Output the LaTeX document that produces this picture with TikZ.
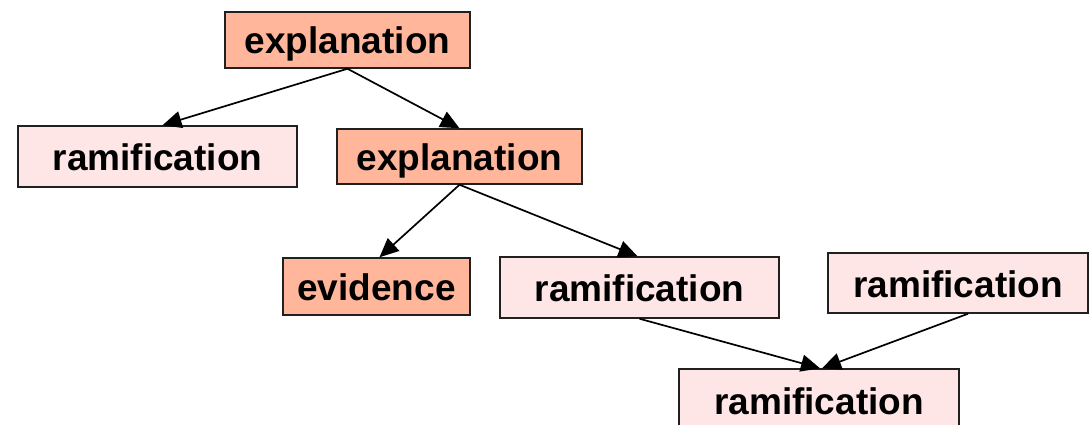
\documentclass[tikz,border=0pt]{standalone}
\usepackage{fontspec}
\setmainfont{Liberation Sans}
\usetikzlibrary{arrows.meta}
\definecolor{darkbox}{HTML}{FFB69A}
\definecolor{lightbox}{HTML}{FFE6E6}
\definecolor{edgegray}{HTML}{202020}
\begin{document}
\begin{tikzpicture}[x=1pt,y=-1pt,
  box/.style={draw=edgegray, line width=1.5pt, rectangle, inner sep=0pt,
    font=\fontsize{37}{42}\selectfont\bfseries, text=black,
    text height=31pt, text depth=3pt},
  darkn/.style={box, fill=darkbox},
  lightn/.style={box, fill=lightbox},
  conn/.style={line width=1.7pt, -{Triangle[length=19pt,width=17pt]}}]
\useasboundingbox (0,0) rectangle (1090,425);
\node[darkn, minimum width=245pt, minimum height=56pt] (E1) at (347.5,40) {explanation};
\node[lightn, minimum width=279pt, minimum height=61pt] (R1) at (157.5,156.5) {ramification};
\node[darkn, minimum width=245pt, minimum height=55pt] (E2) at (459.5,156.5) {explanation};
\node[darkn, minimum width=187pt, minimum height=57pt] (EV) at (376.5,286.5) {evidence};
\node[lightn, minimum width=279pt, minimum height=61pt] (R2) at (639.5,287.5) {ramification};
\node[lightn, minimum width=260pt, minimum height=60pt] (R3) at (958,283) {ramification};
\node[lightn, minimum width=280pt, minimum height=62pt] (R4) at (819,400) {ramification};
\draw[conn] (E1.south) -- ([xshift=5pt]R1.north);
\draw[conn] (E1.south) -- (E2.north);
\draw[conn] (E2.south) -- ([xshift=3pt]EV.north);
\draw[conn] (E2.south) -- ([xshift=-2pt]R2.north);
\draw[conn] (R2.south) -- ([xshift=1pt]R4.north);
\draw[conn] ([xshift=10pt]R3.south) -- ([xshift=3pt]R4.north);
\end{tikzpicture}
\end{document}
